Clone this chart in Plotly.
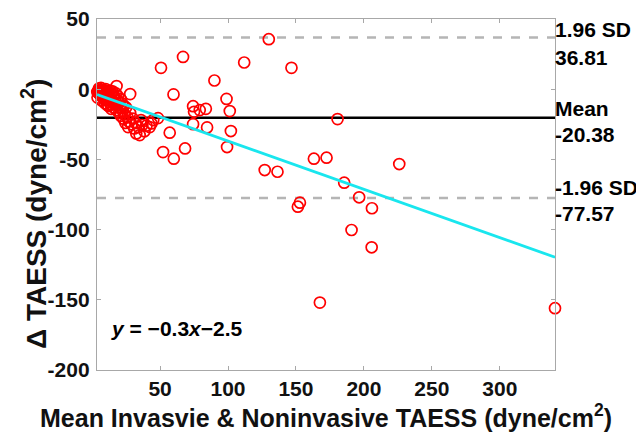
import plotly.graph_objects as go

# ---- data ----
mean_x = [
    # dense cluster near origin
    4.5, 5, 5.5, 6, 6, 6.5, 7, 7, 7.5, 8, 8, 8.5, 9, 9, 9.5, 10, 10.5, 11, 11, 11.5,
    12, 12.5, 13, 13.5, 14, 14.5, 15, 15.5, 16, 16.5, 17, 18, 18, 18.5, 19, 20, 20.5,
    21, 22, 22.5, 23, 24, 24.5, 25, 26, 26.5, 27, 28, 28, 29, 30, 31, 32, 32.5, 34,
    35, 36, 37, 38.5, 40, 42.4, 43.7, 45, 48.5, 3.8, 5, 6.5, 8, 10,
    4, 7, 9.5, 12, 13, 15, 16, 17.5, 19, 21, 14, 11, 20, 23.5,
    # scattered points
    50.7, 66.9, 130, 111.9, 146.7, 90.0, 59.9, 98.9, 101.3, 74.3, 79.2, 83.7, 75.0,
    74.3, 84.6, 102.1, 57.1, 52.2, 60.1, 68.4, 99.3, 127.0, 136.4, 180.6, 163.2,
    172.5, 226.0, 185.5, 196.5, 205.9, 152.9, 151.4, 190.9, 205.7, 167.6, 340.6,
]
diff_y = [
    -1.5, -3, -2, -0.5, -4, -2.5, -1, -5, -3, -2, -6, -0.5, -4, -7, -2.5, -5.5, -1.5, -3.5, -8, -6,
    -2, -9, -4.5, -7, -11, -3, -8.5, -5.5, -13, -10, -6.5, 2.2, -15, -11.5, -8, -17, -13,
    -19, -10, -15.5, -21, -18, -24, -13, -20, -27, -23, -3.5, -17, -25, -21, -28, -24, -31.5, -27,
    -32.7, -22, -25.5, -30, -26, -27, -24.4, -22, -20.6, -2, 0.5, 1, -1, 0,
    -6, -8, -10, -12, -1, -1.5, -4, -3, -5, -7, -14, -11, -9.5, -12,
    15.2, 23.0, 35.6, 19.0, 15.2, 6.2, -3.7, -6.9, -15.6, -12.1, -14.9, -14.0, -16.1,
    -24.9, -27.2, -29.8, -31.0, -44.8, -49.5, -42.2, -41.2, -57.6, -58.8, -21.3, -49.5,
    -48.8, -53.3, -66.6, -77.0, -84.8, -80.8, -83.7, -100.3, -112.6, -152.0, -156.0,
]

mean_diff = -20.38
upper_loa = 36.81
lower_loa = -77.57
fit_slope = -0.344
fit_intercept = -2.5
x_range = [3.6, 340.6]
y_range = [-200, 50]

x_ticks = [50, 100, 150, 200, 250, 300]
y_ticks = [50, 0, -50, -100, -150, -200]
y_tick_text = ["50", "0", "-50", "-100", "-150", "-200"]

FONT = "Liberation Sans, Arial, Helvetica, sans-serif"

fig = go.Figure()

# limits of agreement and mean
for val, col, dash in [(upper_loa, "#b5b5b5", "dash"), (lower_loa, "#b5b5b5", "dash"),
                       (mean_diff, "black", "solid")]:
    fig.add_trace(go.Scatter(x=x_range, y=[val, val], mode="lines",
                             line=dict(color=col, width=2.5, dash=dash),
                             hoverinfo="skip", showlegend=False))

# data points
fig.add_trace(go.Scatter(x=mean_x, y=diff_y, mode="markers",
                         marker=dict(symbol="circle-open", size=11, color="red",
                                     line=dict(width=1.7, color="red")),
                         cliponaxis=False, showlegend=False))

# regression line
fit_y = [fit_slope * v + fit_intercept for v in x_range]
fig.add_trace(go.Scatter(x=x_range, y=fit_y, mode="lines",
                         line=dict(color="#19e6ee", width=2.8),
                         showlegend=False))

# plot-area pixel bounds in the reference (used to place side texts)
P_TOP, P_BOT, P_LEFT, P_RIGHT = 18.8, 369.7, 97.3, 555.0


def py(pix):
    return 1 - (pix - P_TOP) / (P_BOT - P_TOP)


def px(pix):
    return (pix - P_LEFT) / (P_RIGHT - P_LEFT)


ann_font = dict(family=FONT, size=21, color="black", weight="bold")
labels = [("1.96 SD", 29), ("36.81", 57), ("Mean", 108), ("-20.38", 134),
          ("-1.96 SD", 187), ("-77.57", 213)]
for txt, ypix in labels:
    fig.add_annotation(text=txt, xref="paper", yref="paper", x=1.0, xanchor="left",
                       y=py(ypix), yanchor="middle",
                       showarrow=False, font=ann_font, xshift=-2)

fig.add_annotation(text="<i>y</i> = \u22120.3<i>x</i>\u22122.5", xref="paper", yref="paper",
                   x=px(109), xanchor="left", y=py(328), yanchor="middle",
                   showarrow=False, font=dict(family=FONT, size=21, color="black", weight="bold"))

# y-axis title as rotated annotation
fig.add_annotation(text="\u0394\u00a0TAESS (dyne/cm<sup>2</sup>)", xref="paper", yref="paper",
                   x=px(35), xanchor="center", y=py(214), yanchor="middle",
                   textangle=-90, showarrow=False,
                   font=dict(family=FONT, size=28, color="#111", weight="bold"))

axis_common = dict(showline=True, linecolor="#a8a8a8", linewidth=1.3, mirror="ticks",
                   ticks="inside", ticklen=4, tickcolor="#a8a8a8", tickwidth=1.2,
                   showgrid=False, zeroline=False, ticklabeloverflow="allow",
                   tickfont=dict(family=FONT, size=21, color="#111", weight="bold"))

fig.update_xaxes(range=x_range, tickvals=x_ticks, **axis_common,
                 title=dict(text="Mean Invasvie & Noninvasive TAESS (dyne/cm<sup>2</sup>)",
                            font=dict(family=FONT, size=25, color="#111", weight="bold"),
                            standoff=9))
fig.update_yaxes(range=y_range, tickvals=y_ticks, ticktext=y_tick_text, **axis_common,
                 ticklabelstandoff=2)

# the page body adds an 8px offset, so margins are shifted to compensate
fig.update_layout(width=644, height=445, plot_bgcolor="white", paper_bgcolor="white",
                  margin=dict(l=89, r=97, t=11, b=83, autoexpand=False), showlegend=False)

fig.write_html("out.html")
